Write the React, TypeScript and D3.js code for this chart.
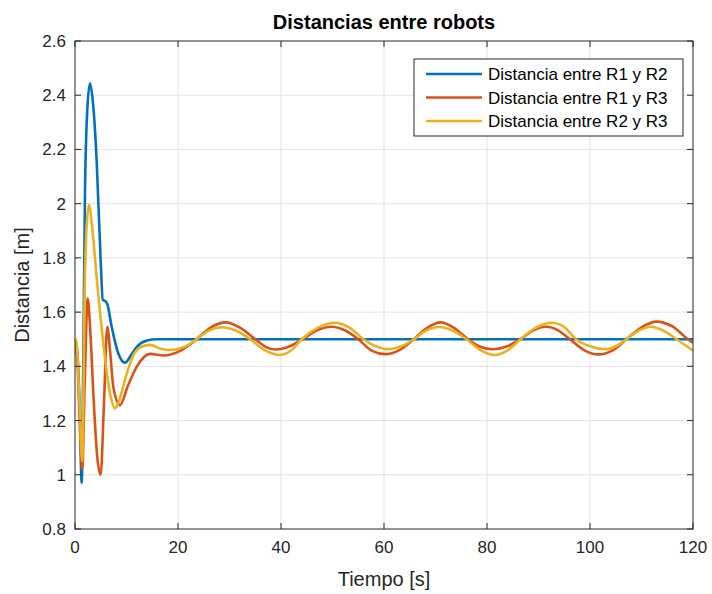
import React from "react";
import * as d3 from "d3";

const xTicks = [0, 20, 40, 60, 80, 100, 120];
const yTicks = [0.8, 1, 1.2, 1.4, 1.6, 1.8, 2, 2.2, 2.4, 2.6];
const seriesNames = ["Distancia entre R1 y R2", "Distancia entre R1 y R3", "Distancia entre R2 y R3"];
const seriesColors = ["#0072BD", "#D95319", "#EDB120"];

const r12T = [0, 0.5, 0.9, 1.3, 1.6, 1.94, 2.4, 2.91, 3.5, 4.2, 4.98, 5.4, 5.9, 6.3, 7.12, 8.4, 9.7, 11, 12, 14, 15.9, 20, 120];
const r12V = [1.5, 1.44, 1.25, 0.97, 1.4, 2.04, 2.35, 2.444, 2.37, 2.161, 1.792, 1.645, 1.64, 1.628, 1.546, 1.448, 1.413, 1.445, 1.472, 1.495, 1.5, 1.5, 1.5];

const r13T = [0, 0.5, 1.0, 1.4, 1.9, 2.46, 3.0, 3.56, 4.3, 4.98, 5.6, 6.28, 6.8, 7.44, 8.74, 10.3, 12, 14.6, 17.3, 20.4, 23.6, 26.4, 29.3, 32.1, 35, 37, 39, 41.6, 44.2, 47, 49.8, 52.4, 55, 57.6, 60.2, 63, 65.8, 68.4, 71, 73.6, 76.3, 78.7, 81.1, 83.8, 86.5, 89, 91.5, 93.8, 96.1, 98.9, 101.6, 104.4, 107.1, 110, 112.9, 116, 119, 120];
const r13V = [1.5, 1.4, 1.15, 1.02, 1.35, 1.65, 1.52, 1.3, 1.07, 1.0, 1.25, 1.546, 1.46, 1.325, 1.257, 1.33, 1.399, 1.446, 1.44, 1.457, 1.5, 1.544, 1.562, 1.542, 1.5, 1.472, 1.462, 1.473, 1.5, 1.533, 1.546, 1.533, 1.5, 1.458, 1.445, 1.46, 1.5, 1.542, 1.562, 1.542, 1.5, 1.472, 1.463, 1.473, 1.5, 1.533, 1.546, 1.533, 1.5, 1.459, 1.444, 1.459, 1.5, 1.544, 1.565, 1.547, 1.5, 1.487];

const r23T = [0, 0.3, 0.8, 1.4, 1.9, 2.3, 2.72, 3.3, 4.2, 5.5, 6.8, 7.77, 8.5, 10, 11.3, 12.9, 14.6, 16.5, 18.1, 21, 23.6, 26, 28.5, 31.2, 34, 36.9, 39.8, 42, 44, 47.2, 50.5, 53.3, 56, 58.4, 60.8, 63.3, 65.8, 68.2, 70.6, 73.3, 76, 78.8, 81.5, 84, 86.5, 89.5, 92.6, 95, 97.3, 100, 102.9, 105, 107.1, 109.5, 111.9, 114.2, 116.8, 120];
const r23V = [1.5, 1.49, 1.3, 1.05, 1.7, 1.93, 1.995, 1.92, 1.73, 1.485, 1.3, 1.245, 1.27, 1.37, 1.44, 1.472, 1.479, 1.466, 1.46, 1.47, 1.5, 1.532, 1.544, 1.532, 1.5, 1.459, 1.442, 1.459, 1.5, 1.543, 1.561, 1.543, 1.5, 1.474, 1.463, 1.474, 1.5, 1.532, 1.545, 1.532, 1.5, 1.459, 1.442, 1.459, 1.5, 1.543, 1.561, 1.545, 1.5, 1.474, 1.463, 1.474, 1.5, 1.532, 1.546, 1.532, 1.5, 1.458];

const W = 712, H = 594;
const M = { left: 75, right: 693, top: 41, bottom: 529 };
const FONT = "'Liberation Sans', Arial, Helvetica, sans-serif";
const AX = "#262626";

export default function App() {
  const x = d3.scaleLinear().domain([0, 120]).range([M.left, M.right]);
  const y = d3.scaleLinear().domain([0.8, 2.6]).range([M.bottom, M.top]);
  const line = d3
    .line<[number, number]>()
    .x((d) => x(d[0]))
    .y((d) => y(d[1]))
    .curve(d3.curveMonotoneX);
  const series = [
    r12T.map((t, i) => [t, r12V[i]] as [number, number]),
    r13T.map((t, i) => [t, r13V[i]] as [number, number]),
    r23T.map((t, i) => [t, r23V[i]] as [number, number]),
  ];
  const tickLen = 6;
  const leg = { x: 414, y: 59, w: 269, h: 77 };
  return (
    <svg width={W} height={H} style={{ position: "absolute", left: 0, top: 0, background: "#fff" }} fontFamily={FONT}>
      <rect x={0} y={0} width={W} height={H} fill="#fff" />
      <g stroke="#e3e3e3" strokeWidth={1}>
        {xTicks.slice(1, -1).map((t) => (
          <line key={"gx" + t} x1={x(t)} x2={x(t)} y1={M.top} y2={M.bottom} />
        ))}
        {yTicks.slice(1, -1).map((t) => (
          <line key={"gy" + t} x1={M.left} x2={M.right} y1={y(t)} y2={y(t)} />
        ))}
      </g>
      <defs>
        <clipPath id="plotclip">
          <rect x={M.left} y={M.top} width={M.right - M.left} height={M.bottom - M.top} />
        </clipPath>
      </defs>
      <g clipPath="url(#plotclip)">
        {series.map((s, i) => (
          <path key={i} d={line(s) || ""} fill="none" stroke={seriesColors[i]} strokeWidth={2.6} strokeLinejoin="round" />
        ))}
      </g>
      <rect x={M.left} y={M.top} width={M.right - M.left} height={M.bottom - M.top} fill="none" stroke={AX} strokeWidth={1} />
      <g stroke={AX} strokeWidth={1}>
        {xTicks.map((t) => (
          <g key={"tx" + t}>
            <line x1={x(t)} x2={x(t)} y1={M.bottom} y2={M.bottom - tickLen} />
            <line x1={x(t)} x2={x(t)} y1={M.top} y2={M.top + tickLen} />
          </g>
        ))}
        {yTicks.map((t) => (
          <g key={"ty" + t}>
            <line x1={M.left} x2={M.left + tickLen} y1={y(t)} y2={y(t)} />
            <line x1={M.right} x2={M.right - tickLen} y1={y(t)} y2={y(t)} />
          </g>
        ))}
      </g>
      <g fill={AX} fontSize={17}>
        {xTicks.map((t) => (
          <text key={"lx" + t} x={x(t)} y={M.bottom + 24} textAnchor="middle">
            {t}
          </text>
        ))}
        {yTicks.map((t) => (
          <text key={"ly" + t} x={M.left - 9} y={y(t) + 6} textAnchor="end">
            {t}
          </text>
        ))}
      </g>
      <text x={(M.left + M.right) / 2} y={586} textAnchor="middle" fontSize={20} fill={AX}>
        Tiempo [s]
      </text>
      <text transform={`translate(29, ${(M.top + M.bottom) / 2}) rotate(-90)`} textAnchor="middle" fontSize={20} fill={AX}>
        Distancia [m]
      </text>
      <text x={(M.left + M.right) / 2} y={29} textAnchor="middle" fontSize={20} fontWeight="bold" fill="#000">
        Distancias entre robots
      </text>
      <rect x={leg.x} y={leg.y} width={leg.w} height={leg.h} fill="#fff" stroke={AX} strokeWidth={1} />
      {seriesNames.map((n, i) => (
        <g key={"leg" + i}>
          <line x1={leg.x + 12} x2={leg.x + 68} y1={leg.y + 15 + i * 23.5} y2={leg.y + 15 + i * 23.5} stroke={seriesColors[i]} strokeWidth={2.6} />
          <text x={leg.x + 74} y={leg.y + 21 + i * 23.5} fontSize={17} fill="#000">
            {n}
          </text>
        </g>
      ))}
    </svg>
  );
}
